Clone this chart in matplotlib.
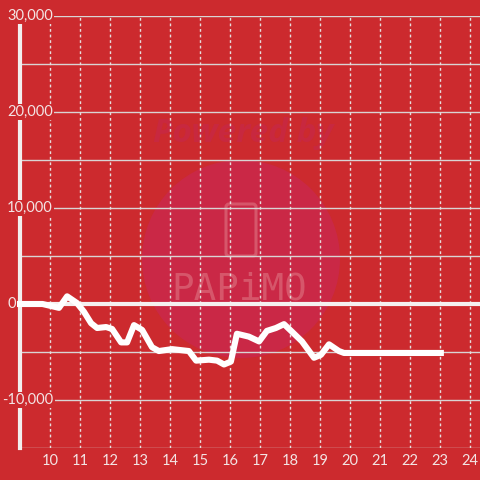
import matplotlib
matplotlib.use("Agg")
import matplotlib.pyplot as plt
from matplotlib.patches import Circle, FancyBboxPatch

# ---- data ----
x_vals = [8.88, 9.75, 10.3, 10.57, 10.9, 11.13, 11.37, 11.57, 11.87, 12.07,
          12.37, 12.57, 12.8, 13.07, 13.4, 13.63, 14.07, 14.63, 14.87, 15.3,
          15.57, 15.8, 16.03, 16.23, 16.63, 16.97, 17.23, 17.53, 17.8, 18.07,
          18.4, 18.8, 19.03, 19.3, 19.63, 19.8, 23.13]
y_vals = [0, 0, -400, 800, 100, -800, -2000, -2500, -2400, -2600,
          -4000, -4000, -2200, -2700, -4500, -4900, -4700, -4900, -5900, -5800,
          -5900, -6300, -6000, -3100, -3400, -3900, -2800, -2500, -2100, -2900,
          -3900, -5600, -5300, -4200, -4900, -5100, -5100]
x_ticks = list(range(10, 25))
y_label_vals = [30000, 20000, 10000, 0, -10000]
y_label_text = ["30,000", "20,000", "10,000", "0", "-10,000"]

BG = "#cc2a2e"
TXT = "#f3e4e4"
W = H = 480

fig = plt.figure(figsize=(4.8, 4.8), dpi=100, facecolor=BG)
plt.rcParams['font.family'] = ['Lato', 'DejaVu Sans']

# watermark layer (pixel coordinates)
wm = fig.add_axes([0, 0, 1, 1], zorder=0)
wm.set_xlim(0, W)
wm.set_ylim(H, 0)
wm.axis('off')
wm.patch.set_alpha(0)
wm.add_patch(Circle((241, 259), 99, facecolor="#ca2846", edgecolor='none'))
wm.text(243, 134, "Powered by", ha='center', va='center', fontsize=24,
        fontweight='bold', style='italic', color="#c8283f",
        family=['Open Sans', 'DejaVu Sans'])
wm.add_patch(FancyBboxPatch((226, 204), 30, 52, boxstyle="round,pad=0,rounding_size=3",
                            facecolor='none', edgecolor="#d6566a", lw=2.2))
wm.text(239, 290, "PAPiMO", ha='center', va='center', fontsize=27,
        color="#d6566a", family=['DejaVu Sans Mono'])

ax = fig.add_axes([20 / W, 32 / H, 460 / W, 432 / H], zorder=1)
ax.patch.set_alpha(0)
ax.set_xlim(9, 9 + 460 / 30)
ax.set_ylim(-15000, 30000)

for s in ['top', 'right', 'bottom']:
    ax.spines[s].set_visible(False)
ax.spines['left'].set_color('#f2eeee')
ax.spines['left'].set_linewidth(3)
ax.spines['left'].set_zorder(2)

# grid
for v in range(-15000, 30001, 5000):
    ax.axhline(v, color='#d9d4d4', lw=1, zorder=1)
for xv in range(9, 25):
    ax.axvline(xv, color='#e6dede', lw=1, ls=(0, (2, 2)), zorder=1)
ax.axhline(0, color='#f5f0f0', lw=3, zorder=3)

ax.set_xticks([])
ax.set_yticks([])

# data line
ax.plot(x_vals, y_vals, color='white', lw=4.4, solid_capstyle='butt',
        solid_joinstyle='round', zorder=5, clip_on=False)

# y labels with background boxes
for v, t in zip(y_label_vals, y_label_text):
    px = 7 if v >= 0 else 2
    ax.text((px - 20) / 460, v, t, transform=ax.get_yaxis_transform(), ha='left',
            va='center', fontsize=10.5, color=TXT, zorder=6, clip_on=False,
            bbox=dict(facecolor=BG, edgecolor='none', pad=1.0))

# x labels
for xv in x_ticks:
    ax.text(xv, -16400, str(xv), ha='center', va='center', fontsize=10.5,
            color=TXT, clip_on=False)

fig.savefig("out.png", dpi=100, facecolor=BG)
